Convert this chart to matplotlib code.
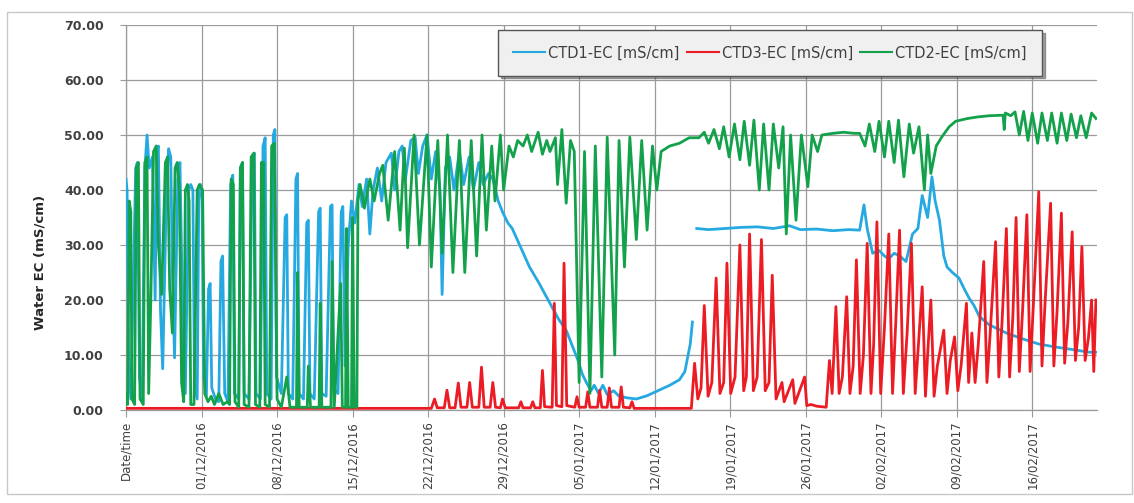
import numpy as np
import matplotlib
matplotlib.use("Agg")
import matplotlib.pyplot as plt
from matplotlib.patches import Rectangle

# (day since 24/11/2016, EC in mS/cm)
ctd1_points = [
    (0.0, 42), (0.1, 40), (0.25, 8), (0.45, 2), (0.75, 30), (0.9, 44), (1.05, 45),
    (1.25, 6), (1.5, 1.5), (1.75, 44), (1.95, 50), (2.15, 44), (2.45, 46), (2.7, 20),
    (2.85, 47), (3.0, 48), (3.2, 18), (3.4, 7.5), (3.75, 40), (3.95, 47.5), (4.15, 46),
    (4.3, 25), (4.5, 9.5), (4.8, 42), (5.0, 45), (5.3, 12), (5.5, 3), (5.8, 40),
    (6.0, 41), (6.2, 40), (6.35, 4), (6.6, 2), (6.75, 40), (6.9, 41), (7.05, 38),
    (7.2, 6), (7.45, 2.5), (7.65, 22), (7.8, 23), (7.95, 4), (8.3, 2), (8.6, 1.5),
    (8.8, 27), (8.95, 28), (9.15, 3), (9.45, 1.5), (9.7, 41), (9.9, 42.7), (10.05, 3),
    (10.45, 2), (10.6, 44), (10.8, 45), (10.95, 3), (11.4, 2), (11.7, 46), (11.9, 46.7),
    (12.05, 3), (12.45, 2), (12.7, 48), (12.9, 49.5), (13.05, 3), (13.45, 2), (13.65, 50),
    (13.8, 51), (13.95, 6), (14.4, 3), (14.75, 35), (14.9, 35.5), (15.05, 3), (15.45, 2),
    (15.75, 42), (15.9, 43), (16.05, 3), (16.45, 2), (16.75, 34), (16.9, 34.5), (17.05, 3),
    (17.45, 2), (17.85, 36), (18.0, 36.7), (18.15, 3), (18.55, 2.5), (18.95, 37),
    (19.1, 37.3), (19.25, 4), (19.65, 3), (19.95, 36), (20.1, 37), (20.3, 8), (20.6, 30),
    (20.9, 38), (21.2, 34), (21.6, 41), (21.9, 37), (22.3, 42), (22.6, 32), (22.9, 40),
    (23.3, 44), (23.7, 38), (24.1, 45), (24.6, 46.7), (24.9, 40), (25.3, 47), (25.6, 48),
    (25.9, 42), (26.4, 49), (26.8, 49.6), (27.1, 43), (27.5, 48), (27.9, 50), (28.3, 42),
    (28.7, 47), (29.1, 40), (29.3, 21), (29.6, 44), (30.0, 46), (30.4, 40), (30.9, 47),
    (31.3, 41), (31.8, 46), (32.2, 40), (32.7, 45), (33.1, 41), (33.6, 43), (34.0, 42),
    (34.5, 38), (34.9, 36), (35.4, 34), (35.8, 33), (36.6, 29.5), (37.4, 26), (38.3, 23),
    (39.3, 19.4), (40.1, 16.5), (40.8, 14.5), (41.4, 11.5), (41.9, 9), (42.3, 6.5),
    (42.7, 4.9), (43.1, 3.5), (43.4, 4.5), (43.8, 3), (44.2, 4.5), (44.6, 2.8),
    (45.2, 3.5), (45.7, 2.5), (46.5, 2.2), (47.3, 2), (48.3, 2.6), (49.4, 3.6),
    (50.4, 4.5), (51.3, 5.5), (51.8, 7), (52.0, 9), (52.3, 12), (52.5, 16),
    (52.6, np.nan),
    (52.9, 33), (54.0, 32.8), (55.5, 33), (57.0, 33.2), (58.5, 33.3), (60.0, 33),
    (61.5, 33.5), (62.5, 32.8), (64.0, 32.9), (65.5, 32.6), (67.0, 32.8), (68.0, 32.7),
    (68.4, 37.3), (68.7, 33), (69.2, 28.5), (69.8, 29), (70.3, 28), (70.7, 27.5),
    (71.2, 28.5), (71.7, 28), (72.3, 27), (72.9, 32), (73.4, 33), (73.8, 39), (74.3, 35),
    (74.7, 42.4), (75.0, 38), (75.4, 34.5), (75.8, 28), (76.1, 26), (76.6, 25),
    (77.2, 24), (77.7, 22), (78.1, 20.5), (78.6, 19), (79.1, 17), (80.0, 15.5),
    (81.6, 14), (83.0, 13), (84.6, 12), (86.0, 11.5), (87.7, 11), (89.3, 10.5),
    (89.9, 10.5),
]

ctd3_points = [
    (0.0, 0.3), (28.3, 0.3), (28.6, 2), (28.85, 0.4), (29.5, 0.4), (29.75, 3.6),
    (30.0, 0.4), (30.5, 0.4), (30.8, 4.9), (31.05, 0.5), (31.6, 0.5), (31.85, 5),
    (32.1, 0.5), (32.7, 0.5), (32.95, 7.8), (33.2, 0.5), (33.75, 0.5), (34.0, 5),
    (34.25, 0.5), (34.7, 0.4), (34.9, 2), (35.15, 0.4), (36.4, 0.4), (36.6, 1.5),
    (36.8, 0.4), (37.5, 0.4), (37.7, 1.5), (37.9, 0.4), (38.4, 0.4), (38.6, 7.2),
    (38.8, 0.6), (39.5, 0.5), (39.7, 19.4), (39.9, 0.8), (40.4, 0.6), (40.6, 26.7),
    (40.85, 0.8), (41.6, 0.5), (41.8, 2.4), (42.0, 0.5), (42.6, 0.5), (42.8, 3.3),
    (43.0, 0.5), (43.7, 0.5), (43.9, 3.6), (44.1, 0.5), (44.6, 0.5), (44.8, 4),
    (45.0, 0.5), (45.7, 0.5), (45.9, 4.2), (46.1, 0.5), (46.7, 0.4), (46.9, 1.5),
    (47.1, 0.3), (52.4, 0.3), (52.7, 8.5), (53.0, 2), (53.3, 4), (53.6, 19),
    (53.95, 2.5), (54.3, 5), (54.7, 24), (55.05, 3), (55.4, 5), (55.7, 26.7),
    (56.05, 3), (56.45, 6), (56.9, 30), (57.25, 3.5), (57.5, 6), (57.8, 32),
    (58.15, 3.5), (58.5, 6), (58.9, 31), (59.25, 3.5), (59.6, 5), (59.9, 24.5),
    (60.25, 2), (60.8, 5), (61.0, 1.5), (61.8, 5.5), (62.0, 1.2), (62.9, 6),
    (63.1, 0.8), (63.5, 1), (64.0, 0.7), (64.9, 0.5), (65.2, 9), (65.45, 3),
    (65.8, 18.8), (66.1, 3), (66.4, 6), (66.8, 20.6), (67.1, 3), (67.4, 8),
    (67.7, 27.3), (68.05, 3), (68.35, 10), (68.7, 30.3), (69.05, 3), (69.3, 12),
    (69.6, 34.2), (69.95, 3), (70.3, 15), (70.7, 32), (71.05, 3), (71.35, 16),
    (71.7, 32.7), (72.05, 3), (72.4, 14), (72.8, 30.3), (73.15, 3), (73.45, 12),
    (73.8, 22.4), (74.1, 2.5), (74.3, 10), (74.6, 20), (74.9, 2.5), (75.2, 8),
    (75.8, 14.5), (76.1, 3), (76.4, 9), (76.8, 13.3), (77.1, 3.5), (77.4, 8),
    (77.9, 19.4), (78.1, 5), (78.4, 14), (78.7, 5), (79.0, 12), (79.5, 27),
    (79.8, 5), (80.1, 14), (80.6, 30.6), (80.9, 6), (81.2, 16), (81.6, 33),
    (81.9, 6), (82.2, 17), (82.5, 35), (82.8, 7), (83.1, 18), (83.5, 35.5),
    (83.8, 7), (84.1, 19), (84.6, 39.7), (84.9, 8), (85.2, 20), (85.7, 37.6),
    (86.0, 8), (86.3, 18), (86.7, 35.8), (87.0, 8.5), (87.3, 16), (87.7, 32.4),
    (88.0, 9), (88.3, 15), (88.6, 29.7), (88.9, 9), (89.2, 13), (89.5, 20),
    (89.7, 7), (89.9, 20),
]

ctd2_points = [
    (0.0, 3), (0.15, 1), (0.3, 38), (0.45, 36), (0.55, 2), (0.8, 1), (0.95, 44),
    (1.15, 45), (1.3, 2), (1.6, 1), (1.75, 45), (1.95, 46), (2.1, 3), (2.3, 20),
    (2.55, 47), (2.8, 48), (3.0, 30), (3.3, 21), (3.65, 45), (3.85, 46), (4.05, 22),
    (4.3, 14), (4.55, 44), (4.75, 45), (4.95, 40), (5.15, 5), (5.35, 1.5), (5.5, 40),
    (5.7, 41), (5.85, 38), (6.0, 1), (6.3, 1), (6.6, 40), (6.8, 41), (7.1, 40),
    (7.3, 3), (7.6, 1.5), (7.9, 2.5), (8.2, 1), (8.6, 3), (9.0, 1), (9.4, 1.5),
    (9.6, 1), (9.75, 42), (9.95, 41), (10.1, 1.5), (10.45, 0.5), (10.6, 44),
    (10.8, 45), (10.95, 1), (11.4, 0.5), (11.6, 46), (11.85, 46.7), (12.0, 1),
    (12.4, 0.5), (12.55, 45), (12.75, 45), (12.9, 1), (13.3, 0.5), (13.5, 48),
    (13.75, 48.5), (14.0, 2), (14.4, 0.5), (14.9, 6), (15.2, 0.5), (15.8, 0.5),
    (15.9, 25), (16.05, 0.5), (16.8, 0.5), (16.9, 8), (17.1, 0.5), (17.9, 0.5),
    (18.0, 19.4), (18.15, 0.5), (19.0, 0.5), (19.1, 27), (19.3, 0.5), (19.9, 23),
    (20.05, 0.5), (20.35, 0.5), (20.45, 33), (20.6, 0.5), (20.9, 0.5), (21.0, 35),
    (21.15, 0.5), (21.4, 0.5), (21.5, 38),
    (21.7, 41), (22.1, 36.7), (22.6, 42), (23.0, 38), (23.5, 43), (23.8, 44.5),
    (24.3, 34.5), (24.9, 47), (25.4, 32.7), (25.8, 47.6), (26.1, 29.5), (26.7, 50),
    (27.2, 30), (27.9, 50), (28.3, 26), (28.9, 49), (29.3, 28.5), (29.8, 50),
    (30.3, 25), (30.9, 49), (31.4, 25), (32.0, 49), (32.5, 28), (33.0, 50),
    (33.4, 32.7), (33.9, 48), (34.2, 38), (34.7, 50), (35.0, 40), (35.5, 48),
    (35.9, 46), (36.3, 49), (36.8, 48), (37.2, 50), (37.6, 47), (38.2, 50.5),
    (38.6, 46.5), (39.0, 49), (39.3, 47), (39.8, 49.5), (40.0, 41), (40.4, 51),
    (40.8, 37.6), (41.2, 49), (41.55, 47), (42.0, 5), (42.5, 47), (43.0, 3),
    (43.5, 48), (44.1, 6), (44.6, 49.6), (45.3, 10), (45.7, 49), (46.2, 26),
    (46.7, 49.6), (47.3, 31), (47.8, 49), (48.3, 32.7), (48.8, 48), (49.2, 40),
    (49.6, 47), (50.4, 48), (51.3, 48.5), (52.2, 49.5), (53.1, 49.5), (53.6, 50.5),
    (54.0, 48.5), (54.5, 51), (55.0, 47.5), (55.4, 51.5), (55.9, 46), (56.4, 52),
    (56.9, 45.5), (57.3, 52.5), (57.8, 44.5), (58.2, 52.7), (58.7, 40), (59.1, 52),
    (59.6, 40), (60.0, 52), (60.5, 44), (60.9, 51.5), (61.2, 32), (61.6, 50),
    (62.1, 34.5), (62.6, 50), (63.2, 40.6), (63.6, 50), (64.1, 47), (64.5, 50),
    (65.5, 50.3), (66.5, 50.5), (67.5, 50.3), (68.0, 50.3), (68.5, 48), (68.9, 52),
    (69.4, 47), (69.8, 52.5), (70.3, 46), (70.7, 52.5), (71.2, 45), (71.6, 52.7),
    (72.1, 42.4), (72.6, 52), (73.0, 46.7), (73.5, 51.5), (74.0, 40), (74.3, 50),
    (74.6, 43), (75.1, 48), (75.6, 49.6), (76.3, 51.5), (76.9, 52.5), (78.0, 53),
    (79.0, 53.3), (80.0, 53.5), (81.3, 53.6), (81.4, 51), (81.5, 54), (82.0, 53.5),
    (82.4, 54.2), (82.8, 50), (83.2, 54.3), (83.6, 49), (84.0, 54), (84.5, 48.5),
    (84.9, 54), (85.4, 49), (85.8, 54), (86.3, 48.5), (86.7, 54), (87.2, 49),
    (87.6, 53.8), (88.1, 49.5), (88.5, 53.5), (89.0, 49.5), (89.5, 54), (89.9, 53),
]

tick_days = [0, 7, 14, 21, 28, 35, 42, 49, 56, 63, 70, 77, 84]
tick_labels = [
    "Date/time", "01/12/2016", "08/12/2016", "15/12/2016", "22/12/2016",
    "29/12/2016", "05/01/2017", "12/01/2017", "19/01/2017", "26/01/2017",
    "02/02/2017", "09/02/2017", "16/02/2017",
]

series = [
    ("CTD1-EC [mS/cm]", ctd1_points, "#25a9e0"),
    ("CTD3-EC [mS/cm]", ctd3_points, "#ec1c24"),
    ("CTD2-EC [mS/cm]", ctd2_points, "#13a24b"),
]

W, H = 1134, 503
fig = plt.figure(figsize=(W / 100, H / 100), dpi=100)
fig.patch.set_facecolor("white")

# outer chart frame
fig.patches.append(Rectangle((7 / W, 1 - 494 / H), 1125 / W, 482 / H,
                             transform=fig.transFigure, fill=False,
                             edgecolor="#c8c8c8", linewidth=1.0))

ax = fig.add_axes([126 / W, 1 - 410 / H, 971 / W, 385 / H])

for i, (name, pts, col) in enumerate(series):
    days, ec = zip(*pts)
    ax.plot(days, ec, color=col, lw=2.0, label=name, zorder=3 + i,
            solid_joinstyle="round")

ax.set_xlim(0, 90)
ax.set_ylim(0, 70)
ax.set_yticks(np.arange(0, 71, 10))
ax.set_yticklabels([f"{v:.2f}" for v in range(0, 71, 10)])
ax.set_xticks(tick_days)
ax.set_xticklabels(tick_labels, rotation=90, va="top", ha="center")

grid_c = "#9a9a9a"
ax.grid(True, color=grid_c, lw=0.9)
ax.set_axisbelow(True)
for side in ["top", "right"]:
    ax.spines[side].set_visible(False)
for side in ["left", "bottom"]:
    ax.spines[side].set_color(grid_c)
    ax.spines[side].set_linewidth(0.9)

ax.tick_params(axis="y", length=4, color=grid_c, pad=12, labelsize=9,
               labelcolor="#404040")
ax.tick_params(axis="x", length=5, color=grid_c, pad=3, labelsize=8.5,
               labelcolor="#404040")
for lab in ax.get_yticklabels():
    lab.set_fontweight("bold")

fig.text(40 / W, 1 - 262 / H, "Water EC (mS/cm)", rotation=90, ha="center",
         va="center", fontsize=9.5, fontweight="bold", color="#262626")

leg = ax.legend(loc="upper left", bbox_to_anchor=(0.383, 0.987), ncol=3,
                fontsize=10.5, frameon=True, fancybox=False, shadow=True,
                handlelength=2.2, handletextpad=0.2, columnspacing=0.5,
                borderpad=1.05, borderaxespad=0)
leg.get_frame().set_facecolor("#f0f0f0")
leg.get_frame().set_edgecolor("#555555")
leg.get_frame().set_linewidth(1.0)
for h in leg.get_lines():
    h.set_linewidth(1.5)
for t in leg.get_texts():
    t.set_color("#404040")

fig.savefig("out.png", dpi=100)
